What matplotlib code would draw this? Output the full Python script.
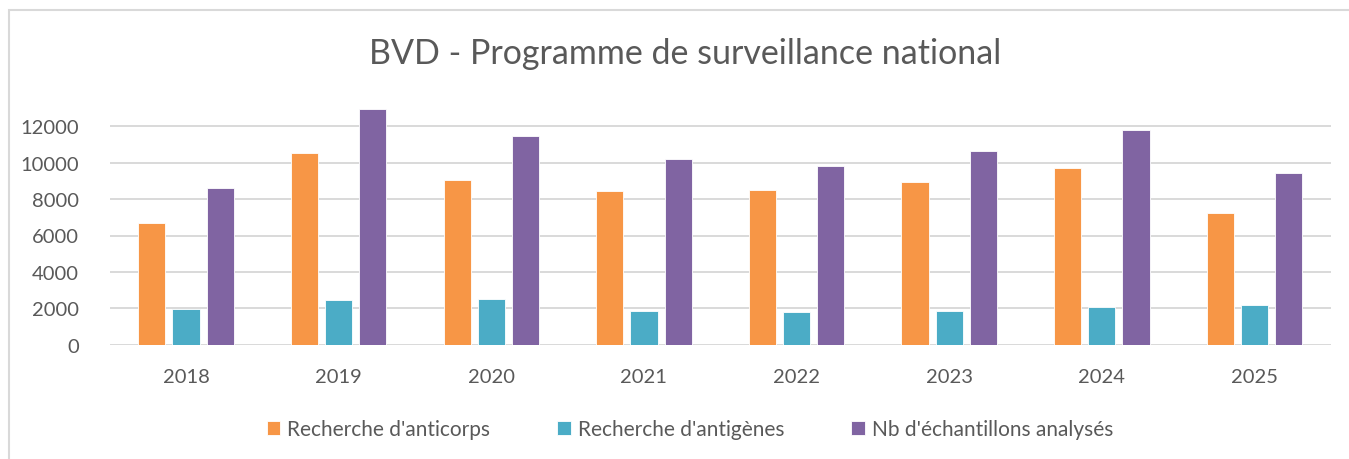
import matplotlib
matplotlib.use('Agg')
import matplotlib.pyplot as plt
from matplotlib.patches import Rectangle
import numpy as np

YEARS = ['2018', '2019', '2020', '2021', '2022', '2023', '2024', '2025']
ANTICORPS = [6700, 10520, 9030, 8450, 8500, 8920, 9690, 7220]
ANTIGENES = [1950, 2450, 2500, 1870, 1800, 1830, 2090, 2180]
ECHANTILLONS = [8590, 12950, 11450, 10220, 9820, 10630, 11780, 9420]
SERIES = [("Recherche d'anticorps", ANTICORPS, '#F79646'),
          ("Recherche d'antigènes", ANTIGENES, '#4BACC6'),
          ("Nb d'échantillons analysés", ECHANTILLONS, '#8064A2')]
TEXT = '#595959'
GRID = '#D9D9D9'

plt.rcParams['font.family'] = ['Lato', 'DejaVu Sans']

W, H = 1349, 460
fig = plt.figure(figsize=(W / 100, H / 100), dpi=100)
fig.patches.append(Rectangle((9 / W, -0.1), 1.2, 1.1 - 11 / H, transform=fig.transFigure,
                             fill=False, ec='#D9D9D9', lw=1.5))

left, right, ytop, ybot = 109.7, 1330.8, 100.0, 345.7
ax = fig.add_axes([left / W, 1 - ybot / H, (right - left) / W, (ybot - ytop) / H])

x = np.arange(len(YEARS))
bw, step = 0.178, 0.224
for i, (name, vals, col) in enumerate(SERIES):
    ax.bar(x + (i - 1) * step, vals, bw, color=col, label=name,
           edgecolor='white', linewidth=0.6, zorder=3)

ax.set_xlim(-0.5, len(YEARS) - 0.5)
ax.set_ylim(0, 13500)
ax.set_yticks(range(0, 12001, 2000))
ax.set_xticks(x, YEARS)
ax.grid(axis='y', color=GRID, lw=1.4, zorder=0)
for s in ax.spines.values():
    s.set_visible(False)
ax.tick_params(length=0, labelsize=14.5, colors=TEXT)
ax.tick_params(axis='x', pad=17)
ax.tick_params(axis='y', pad=22)

fig.text(685 / W, 1 - 54 / H, 'BVD - Programme de surveillance national',
         ha='center', va='center', fontsize=24.5, color=TEXT)
fig.legend(loc='center', bbox_to_anchor=(690 / W, 1 - 430 / H), ncol=3, frameon=False,
           fontsize=15, labelcolor=TEXT, handlelength=0.65, handleheight=0.65,
           handletextpad=0.35, columnspacing=3.2)

fig.savefig('out.png', dpi=100)
